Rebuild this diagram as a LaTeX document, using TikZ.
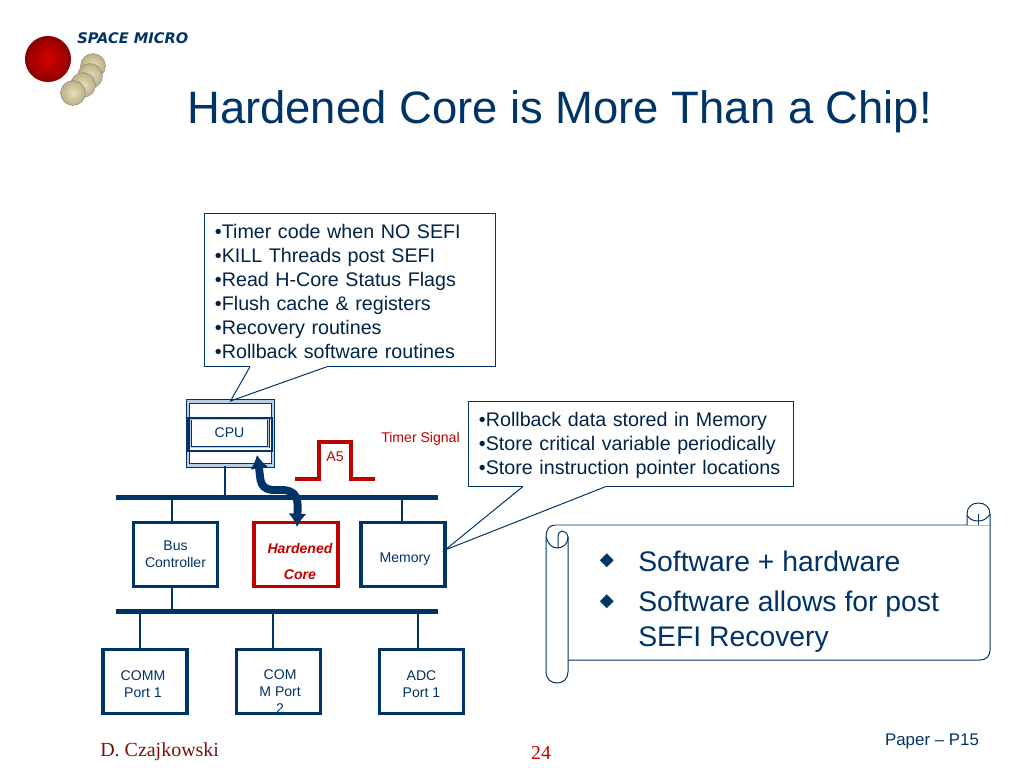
\documentclass[tikz,border=0pt]{standalone}
\usepackage{fontspec}
\setmainfont{Liberation Sans}
\newfontfamily\serifname{Liberation Serif}
\newfontfamily\symbname{DejaVu Sans}
\usetikzlibrary{positioning}
\usetikzlibrary{arrows.meta}
\definecolor{navy}{HTML}{003366}
\definecolor{paleblue}{HTML}{B9CDE5}
\definecolor{alarm}{HTML}{C00000}
\definecolor{darkred}{HTML}{7A1010}
\definecolor{sand}{HTML}{E6DEBC}
\definecolor{sanddark}{HTML}{BDB083}
\tikzset{
	busbox/.style={draw=navy,line width=2.2pt,fill=white,minimum width=2.1cm,minimum height=1.6cm,inner sep=0pt,align=center,text=navy,font=\fontsize{10}{12.1}\selectfont},
	busbar/.style={fill=navy,minimum width=8.05cm,minimum height=0.125cm,inner sep=0pt,outer sep=0pt},
	link/.style={draw=navy,line width=0.8pt},
	notebox/.style={draw=navy,line width=0.7pt,fill=white,inner xsep=0.25cm,inner ysep=0pt,align=left,text=navy!70!black,font=\fontsize{14}{17.07}\selectfont},
	notetip/.style={draw=navy,line width=0.7pt},
	scrolline/.style={draw=navy,line width=0.7pt,fill=white},
	sball/.style={circle,draw=black!50,line width=0.3pt,inner color=sand,outer color=sanddark,minimum size=0.62cm,inner sep=0pt}
}
\begin{document}
\begin{tikzpicture}[x=0.025cm,y=-0.025cm]
	\useasboundingbox (0,0) rectangle (1024,768);

	% logo
	\node[sball] (B1) at (93,66) {};
	\node[sball] (B2) at (90,76) {};
	\node[sball] (B3) at (83,85) {};
	\node[sball] (B4) at (73,93) {};
	\node[circle,inner color=red!85!black,outer color=red!55!black,minimum size=1.15cm,inner sep=0pt] (ball) at (48,59) {};
	\node[anchor=west,inner sep=0pt,text=navy,font=\symbname\fontsize{10.4}{11}\bfseries\itshape\selectfont] (logo) at (77,38) {SPACE MICRO};

	\node[anchor=west,inner sep=0pt,text=navy,font=\fontsize{32.3}{36}\selectfont] (title) at (187,112) {Hardened Core is More Than a Chip!};

	% buses
	\node[busbar] (bus1) at (277,497) {};
	\node[busbar] (bus2) at (277,611) {};
	\coordinate (t1) at (225,0);
	\coordinate (t2) at (172,0);
	\coordinate (t3) at (402,0);
	\coordinate (t4) at (140,0);
	\coordinate (t5) at (273,0);
	\coordinate (t6) at (418,0);

	% boxes on the buses
	\node[draw=navy,line width=0.7pt,double=paleblue,double distance=1.6pt,fill=white,minimum width=2.125cm,minimum height=1.6cm,inner sep=0pt] (cpuframe) at (230.5,433.5) {};
	\node[draw=navy,line width=1.1pt,minimum width=2.1cm,minimum height=0.82cm,inner sep=0pt] (cpubar) at (230,434.5) {};
	\node[draw=navy,line width=0.7pt,double=paleblue,double distance=0.6pt,fill=white,minimum width=1.94cm,minimum height=0.7cm,inner sep=0pt,text=navy,font=\fontsize{10}{12}\selectfont] (cpu) at (229.5,433) {CPU};

	\node[busbox] (busctl) at (175.5,554.5) {Bus\\Controller};
	\node[busbox,draw=alarm,text=alarm,font=\fontsize{10}{18.5}\bfseries\itshape\selectfont] (hcore) at (296,554.5) {\rule{0pt}{17pt}\hspace*{0.2cm}Hardened\\\hspace*{0.2cm}Core};
	\node[busbox] (memory) at (403,554.5) {\rule{0pt}{14pt}\hspace*{0.1cm}Memory};

	\node[busbox] (comm1) at (145,681.5) {\rule{0pt}{10.2pt}COMM\hspace*{0.1cm}\\Port 1\hspace*{0.1cm}};
	\node[busbox] (comm2) at (278.5,681.5) {\mbox{}\\[8.6pt]\hspace*{0.08cm}COM\\\hspace*{0.08cm}M Port\\\hspace*{0.08cm}2};
	\node[busbox] (adc) at (421.5,681.5) {\rule{0pt}{10.2pt}ADC\\Port 1};

	\draw[link] (t1 |- cpuframe.south) -- (t1 |- bus1.center);
	\draw[link] (t2 |- bus1.center) -- (t2 |- busctl.north);
	\draw[link] (t3 |- bus1.center) -- (t3 |- memory.north);
	\draw[link] (t2 |- busctl.south) -- (t2 |- bus2.center);
	\draw[link] (t4 |- bus2.center) -- (t4 |- comm1.north);
	\draw[link] (t5 |- bus2.center) -- (t5 |- comm2.north);
	\draw[link] (t6 |- bus2.center) -- (t6 |- adc.north);

	% timer pulse
	\coordinate (p1) at (295,479);
	\coordinate (p2) at (319,442);
	\coordinate (p3) at (351,442);
	\coordinate (p4) at (375,479);
	\draw[alarm,line width=2.2pt] (p1) -- (p1 -| p2) -- (p2) -- (p3) -- (p3 |- p4) -- (p4);
	\node[text=alarm,inner sep=0pt,font=\fontsize{10}{12}\selectfont] (a5) at (335,457) {A5};
	\node[text=alarm,inner sep=0pt,font=\fontsize{10}{12}\selectfont] (timer) at (420.5,439) {Timer Signal};

	% thick arrow
	\coordinate (cpuport) at (257,455);
	\coordinate (coreport) at (297,527);
	\draw[navy,line width=5.6pt,{Latex[length=9.5pt,width=13pt]}-{Latex[length=9.5pt,width=13pt]}] (cpuport) .. controls (261,480) and (258,491) .. (278,490) .. controls (299,489) and (298,500) .. (coreport);

	% notes
	\node[notebox,text width=6.75cm,minimum height=3.825cm] (note1) at (350,289.7) {%
		\rule{0pt}{13pt}•Timer code when NO SEFI\\
		•KILL Threads post SEFI\\
		•Read H-Core Status Flags\\
		•Flush cache \& registers\\
		•Recovery routines\\
		•Rollback software routines};
	\node[notebox,text width=7.6cm,minimum height=2.125cm] (note2) at (631,443.5) {%
		\rule{0pt}{13pt}•Rollback data stored in Memory\\
		•Store critical variable periodically\\
		•Store instruction pointer locations};
	\coordinate (n1a) at (250,0);
	\coordinate (n1b) at (327,0);
	\coordinate (n2a) at (523,0);
	\coordinate (n2b) at (606,0);
	\coordinate (memtip) at (445,550);
	\draw[white,line width=1pt] (n1a |- note1.south) -- (n1b |- note1.south);
	\draw[white,line width=1pt] (n2a |- note2.south) -- (n2b |- note2.south);
	\draw[notetip] (n1a |- note1.south) -- (cpuframe.north) -- (n1b |- note1.south);
	\draw[notetip] (n2a |- note2.south) -- (memtip) -- (n2b |- note2.south);

	% scroll
	\fill[white] (555,525) rectangle (990,660);
	\draw[scrolline,fill=none] (546,537) .. controls (546,530) and (549,525) .. (555,525) -- (990,525) -- (990,650) .. controls (990,656) and (986,660) .. (980,660) -- (568,660);
	\draw[scrolline] (546,537) -- (546,672) .. controls (546,679) and (551,683) .. (557,683) .. controls (563,683) and (568,679) .. (568,672) -- (568,537);
	\draw[scrolline,fill=none] (546,537) .. controls (548,544) and (552,548) .. (557,548) .. controls (563,548) and (568,544) .. (568,537) .. controls (567,533) and (565,531) .. (562,531) .. controls (560,531) and (558,533) .. (558,537) -- (558,548);
	\draw[scrolline] (967,525) -- (967,514) .. controls (967,507) and (972,503) .. (978.5,503) .. controls (985,503) and (990,507) .. (990,514) -- (990,525);
	\draw[scrolline,fill=none] (967,515) .. controls (969,519) and (973,521) .. (978,521) .. controls (983,521) and (987,519) .. (990,514);
	\draw[scrolline,fill=none] (978,514) -- (978,525);

	\node[text=navy,inner sep=0pt,font=\symbname\fontsize{13}{14}\selectfont] (dot1) at (607,561) {◆};
	\node[text=navy,inner sep=0pt,font=\symbname\fontsize{13}{14}\selectfont] (dot2) at (607,602) {◆};
	\node[anchor=west,inner sep=0pt,text=navy,font=\fontsize{20.15}{24}\selectfont] (pt1) at (638,561) {Software + hardware};
	\node[anchor=north west,inner sep=0pt,align=left,text=navy,font=\fontsize{20.15}{24.9}\selectfont] (pt2) at (638,591) {Software allows for post\\SEFI Recovery};

	% footer
	\node[anchor=west,inner sep=0pt,text=darkred,font=\serifname\fontsize{14.2}{16}\selectfont] (author) at (100,752) {D. Czajkowski};
	\node[inner sep=0pt,text=alarm,font=\serifname\fontsize{14}{16}\selectfont] (pageno) at (541,753) {24};
	\node[inner sep=0pt,text=navy,font=\fontsize{12}{14}\selectfont] (paper) at (932,741) {Paper – P15};
\end{tikzpicture}
\end{document}
